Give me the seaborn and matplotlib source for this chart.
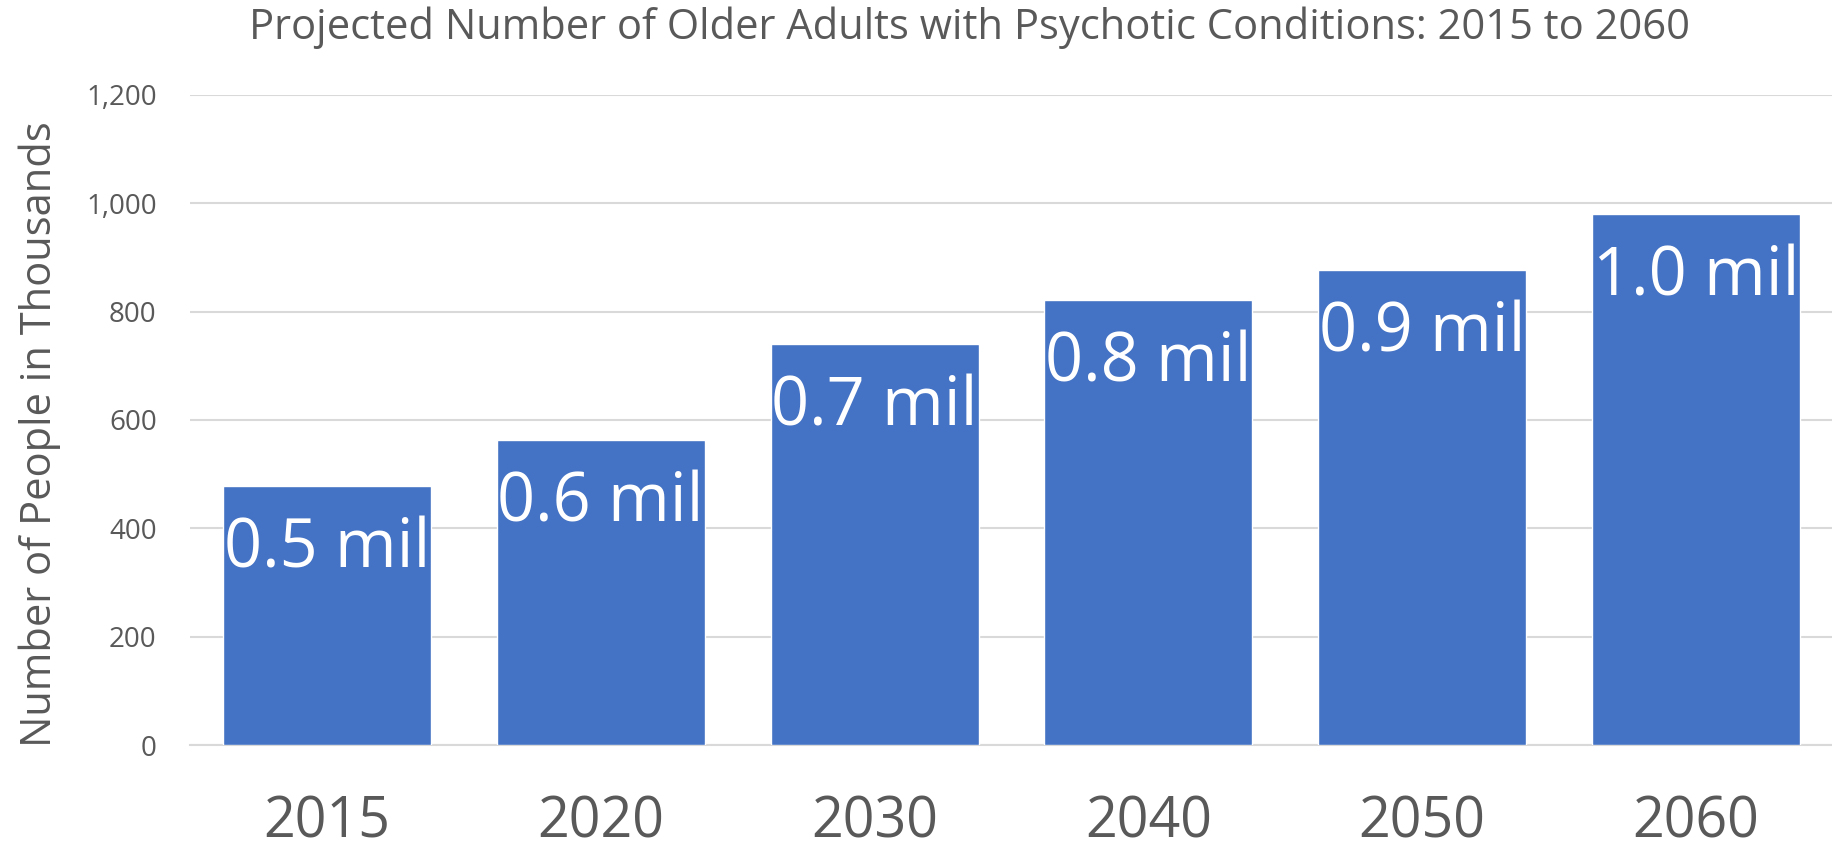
import numpy as np
import pandas as pd
import matplotlib
matplotlib.use("Agg")
import matplotlib.pyplot as plt
import seaborn as sns

# data
years = ["2015", "2020", "2030", "2040", "2050", "2060"]
people_k = [479, 563, 740, 821, 877, 980]
bar_labels = ["0.5 mil", "0.6 mil", "0.7 mil", "0.8 mil", "0.9 mil", "1.0 mil"]
yticks = [0, 200, 400, 600, 800, 1000, 1200]

df = pd.DataFrame({"year": years, "people": people_k})

sns.set_style("white")
plt.rcParams['font.family'] = ['Open Sans', 'DejaVu Sans']
grey = "#595959"

fig = plt.figure(figsize=(18.33, 8.52), dpi=100)
ax = fig.add_axes([190/1833, 1-745/852, 1-190/1833, (745-95)/852])

sns.barplot(data=df, x="year", y="people", color="#4472C4", width=0.76,
            saturation=1, ax=ax, zorder=3)

ax.set_ylim(0, 1200)
ax.set_xlim(-0.5, 5.5)
ax.set_yticks(yticks)
ax.set_yticklabels([f"{v:,}" for v in yticks], fontsize=20, color=grey)
ax.yaxis.grid(True, color="#d9d9d9", linewidth=1.5, zorder=0)
ax.tick_params(axis="y", length=0, pad=24)
ax.tick_params(axis="x", length=0, pad=36, labelsize=40, labelcolor=grey)
for s in ["top", "right", "left"]:
    ax.spines[s].set_visible(False)
ax.spines["bottom"].set_color("#d9d9d9")
ax.spines["bottom"].set_linewidth(1.5)

ax.set_xlabel("")
ax.set_ylabel("Number of People in Thousands", fontsize=30, color=grey, labelpad=18)
ax.yaxis.label.set_y(0.478)

for p, lab in zip(ax.patches, bar_labels):
    ax.annotate(lab, (p.get_x() + p.get_width()/2, p.get_height()),
                xytext=(0, -46), textcoords="offset points",
                ha="center", va="center", color="white", fontsize=48)

fig.text(970/1833, 1-28/852, "Projected Number of Older Adults with Psychotic Conditions: 2015 to 2060",
         ha="center", va="center", fontsize=30, color=grey)

fig.savefig("out.png", dpi=100)
